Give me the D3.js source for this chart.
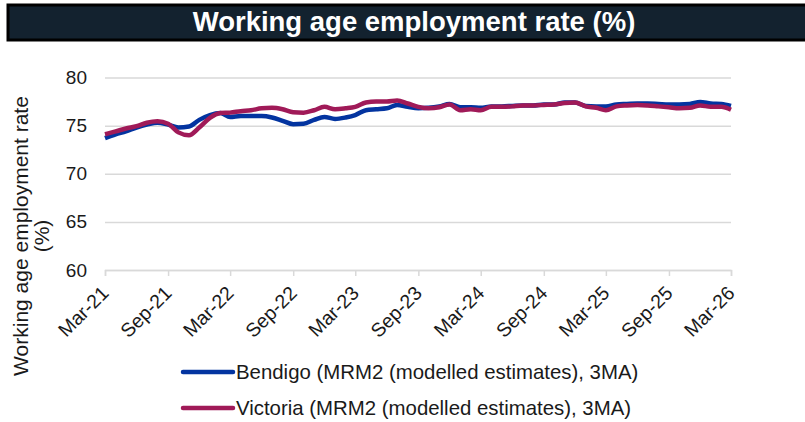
<!DOCTYPE html>
<html lang="en">
<head>
    <meta charset="UTF-8">
    <title>Working age employment rate</title>
    <script src="https://d3js.org/d3.v7.min.js"></script>
</head>
<style>
    body { margin: 0; background: #fff; }
    svg { display: block; font-family: "Liberation Sans", Arial, sans-serif; }
</style>
<body>
    <div id="chart"></div>
    <script>
        // monthly, Mar-21 .. Mar-26
        const months = d3.timeMonth.range(new Date(2021, 2, 1), new Date(2026, 3, 1));
        const bendigo = [73.7, 74.1, 74.4, 74.8, 75.1, 75.3, 75.1, 74.8, 74.9, 75.6,
            76.1, 76.3, 75.9, 76.0, 76.0, 76.0, 75.85, 75.5, 75.15, 75.2,
            75.6, 75.9, 75.7, 75.85, 76.1, 76.6, 76.7, 76.8, 77.15, 76.95,
            76.8, 76.85, 77.0, 77.25, 76.9, 76.9, 76.85, 77.0, 77.0, 77.05,
            77.1, 77.1, 77.2, 77.2, 77.4, 77.4, 77.05, 77.0, 77.0, 77.2,
            77.25, 77.3, 77.3, 77.25, 77.2, 77.2, 77.25, 77.45, 77.3, 77.25, 77.05];
        const victoria = [74.1, 74.4, 74.7, 74.95, 75.3, 75.45, 75.2, 74.3, 74.0, 74.8,
            75.8, 76.3, 76.35, 76.5, 76.6, 76.8, 76.85, 76.7, 76.4, 76.35,
            76.6, 76.95, 76.7, 76.8, 76.95, 77.4, 77.5, 77.5, 77.6, 77.3,
            76.95, 76.8, 76.9, 77.2, 76.6, 76.7, 76.6, 76.95, 76.95, 77.0,
            77.1, 77.1, 77.15, 77.2, 77.35, 77.4, 77.0, 76.85, 76.6, 77.0,
            77.1, 77.15, 77.1, 77.0, 76.9, 76.8, 76.85, 77.1, 76.95, 76.95, 76.65];
        const yTicks = [60, 65, 70, 75, 80];
        const seriesNames = ['Bendigo (MRM2 (modelled estimates), 3MA)', 'Victoria (MRM2 (modelled estimates), 3MA)'];
        const colors = ['#0334a0', '#a01a58'];

        const W = 805, H = 422;
        const plotL = 105, plotR = 731, plotT = 77.5, plotB = 270;

        const svg = d3.select('#chart').append('svg')
            .attr('width', W)
            .attr('height', H);

        // title bar
        svg.append('rect')
            .attr('x', 8).attr('y', 5)
            .attr('width', W).attr('height', 35)
            .attr('fill', '#13222f')
            .attr('stroke', '#000')
            .attr('stroke-width', 3);
        svg.append('text')
            .attr('x', 414).attr('y', 31)
            .attr('text-anchor', 'middle')
            .attr('fill', '#fff')
            .attr('font-size', '27.5px')
            .attr('font-weight', 'bold')
            .text('Working age employment rate (%)');

        const x = d3.scaleTime()
            .domain([months[0], months[months.length - 1]])
            .range([plotL, plotR]);
        const y = d3.scaleLinear().domain([60, 80]).range([plotB, plotT]);

        // gridlines + y labels
        const yAxis = svg.append('g')
            .attr('transform', `translate(${plotL},0)`)
            .call(d3.axisLeft(y).tickValues(yTicks).tickSize(-(plotR - plotL)).tickPadding(18));
        yAxis.select('.domain').remove();
        yAxis.selectAll('.tick line').attr('stroke', '#d9d9d9').attr('stroke-width', 1.5);
        yAxis.selectAll('.tick text')
            .attr('font-size', '19px')
            .attr('fill', '#1a1a1a')
            .attr('font-family', '"Liberation Sans", Arial, sans-serif');

        // x axis, every 6 months from Mar-21
        const xTicks = months.filter((d, i) => i % 6 === 0);
        const xAxis = svg.append('g')
            .attr('transform', `translate(0,${plotB})`)
            .call(d3.axisBottom(x).tickValues(xTicks).tickSize(6).tickFormat(d3.timeFormat('%b-%y')));
        xAxis.select('.domain').attr('stroke', '#d9d9d9').attr('stroke-width', 1.5);
        xAxis.selectAll('.tick line').attr('stroke', '#d9d9d9').attr('stroke-width', 1.5);
        xAxis.selectAll('.tick text')
            .attr('font-size', '19.5px')
            .attr('fill', '#1a1a1a')
            .attr('font-family', '"Liberation Sans", Arial, sans-serif')
            .attr('text-anchor', 'end')
            .attr('dy', 0)
            .attr('transform', 'translate(-2,18) rotate(-45)');

        // y title
        const yt = svg.append('text')
            .attr('transform', 'translate(28,236) rotate(-90)')
            .attr('text-anchor', 'middle')
            .attr('font-size', '21px')
            .attr('fill', '#1a1a1a');
        yt.append('tspan').attr('x', 0).attr('dy', 0).text('Working age employment rate');
        yt.append('tspan').attr('x', 0).attr('dy', 21).text('(%)');

        // lines
        const line = d3.line()
            .x((d, i) => x(months[i]))
            .y(d => y(d))
            .curve(d3.curveMonotoneX);
        [bendigo, victoria].forEach((s, k) => {
            svg.append('path')
                .datum(s)
                .attr('fill', 'none')
                .attr('stroke', colors[k])
                .attr('stroke-width', 4.5)
                .attr('stroke-linejoin', 'round')
                .attr('d', line);
        });

        // legend
        seriesNames.forEach((name, k) => {
            const ly = 372 + k * 36;
            svg.append('line')
                .attr('x1', 183).attr('x2', 233)
                .attr('y1', ly).attr('y2', ly)
                .attr('stroke', colors[k])
                .attr('stroke-width', 4.5)
                .attr('stroke-linecap', 'round');
            svg.append('text')
                .attr('x', 236).attr('y', ly)
                .attr('dy', '0.35em')
                .attr('font-size', '20.4px')
                .attr('fill', '#1a1a1a')
                .text(name);
        });
    </script>
</body>
</html>
